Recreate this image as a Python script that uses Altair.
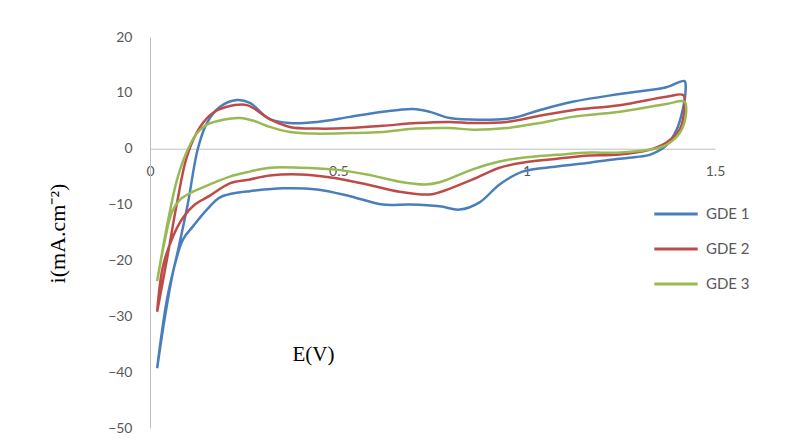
import altair as alt
import pandas as pd

series_names = ["GDE 1", "GDE 2", "GDE 3"]
colors = ["#4A7EBB", "#BE4B48", "#98B954"]

# GDE 1: anodic sweep (left->right) then cathodic sweep (right->left)
gde1_E = [0.019, 0.045, 0.075, 0.100, 0.127, 0.151, 0.186, 0.231, 0.265, 0.318, 0.371, 0.443,
          0.531, 0.618, 0.698, 0.743, 0.796, 0.875, 0.963, 1.034, 1.122, 1.247, 1.371, 1.419,
          1.422, 1.414, 1.398, 1.371, 1.330, 1.290, 1.247, 1.167, 1.080, 0.989, 0.928, 0.875,
          0.822, 0.769, 0.690, 0.618, 0.531, 0.443, 0.353, 0.265, 0.239, 0.186, 0.151, 0.114,
          0.088, 0.065, 0.040, 0.019]
gde1_i = [-39.3, -27.0, -18.0, -10.0, 0.0, 4.6, 7.5, 8.7, 8.2, 5.3, 4.6, 4.8,
          5.7, 6.6, 7.1, 6.6, 5.5, 5.2, 5.5, 6.9, 8.4, 9.8, 11.0, 12.1,
          10.5, 6.9, 3.4, 0.6, -1.0, -1.5, -1.8, -2.5, -3.2, -4.1, -6.4, -9.6,
          -10.9, -10.3, -10.0, -10.0, -8.5, -7.3, -7.1, -7.6, -7.8, -8.7, -10.9, -13.9,
          -16.2, -21.0, -30.0, -39.3]

gde2_E = [0.019, 0.045, 0.072, 0.098, 0.133, 0.167, 0.204, 0.257, 0.318, 0.371, 0.443, 0.531,
          0.618, 0.708, 0.796, 0.857, 0.947, 1.034, 1.122, 1.247, 1.371, 1.416,
          1.419, 1.406, 1.371, 1.326, 1.239, 1.167, 1.080, 0.989, 0.928, 0.857, 0.769, 0.743,
          0.663, 0.576, 0.485, 0.398, 0.318, 0.265, 0.212, 0.159, 0.119, 0.088, 0.061, 0.034,
          0.019]
gde2_i = [-29.2, -19.8, -9.6, -1.4, 3.9, 6.4, 7.5, 7.8, 5.3, 3.9, 3.6, 3.7,
          4.1, 4.6, 4.8, 4.6, 4.8, 5.9, 6.9, 7.8, 9.3, 9.6,
          7.5, 3.4, 1.1, -0.2, -1.1, -1.2, -1.8, -2.5, -3.4, -5.5, -7.8, -8.2,
          -7.7, -6.4, -5.2, -4.6, -4.8, -5.5, -6.2, -8.4, -10.0, -12.3, -15.7, -21.2,
          -29.2]

gde3_E = [0.019, 0.045, 0.072, 0.098, 0.125, 0.151, 0.194, 0.239, 0.275, 0.318, 0.371, 0.443,
          0.531, 0.618, 0.708, 0.796, 0.857, 0.947, 1.034, 1.122, 1.247, 1.371, 1.419,
          1.422, 1.406, 1.371, 1.326, 1.239, 1.167, 1.080, 0.989, 0.928, 0.857, 0.769, 0.730,
          0.663, 0.576, 0.485, 0.398, 0.318, 0.265, 0.212, 0.159, 0.114, 0.080, 0.058, 0.040,
          0.019]
gde3_i = [-23.7, -13.9, -5.5, -0.5, 2.8, 4.3, 5.2, 5.5, 5.0, 3.9, 3.0, 2.7,
          2.8, 3.0, 3.6, 3.7, 3.4, 3.7, 4.6, 5.7, 6.6, 8.0, 8.4,
          5.7, 2.8, 0.7, -0.2, -0.7, -0.7, -1.1, -1.6, -2.3, -3.7, -6.0, -6.4,
          -5.9, -4.6, -3.7, -3.4, -3.4, -4.1, -5.0, -6.4, -7.7, -9.1, -11.4, -16.2,
          -23.7]

x_ticks = [0, 0.5, 1, 1.5]
y_ticks = [-50, -40, -30, -20, -10, 0, 10, 20]

rows = []
for name, es, cs in zip(series_names, [gde1_E, gde2_E, gde3_E], [gde1_i, gde2_i, gde3_i]):
    for k, (e, c) in enumerate(zip(es, cs)):
        rows.append({"series": name, "E": e, "i": c, "idx": k})
df = pd.DataFrame(rows)

W, H = 565, 391
zero_px = H * (20 - 0) / 70.0

label_font = "Lato"
grey = "#595959"
axis_grey = "#BFBFBF"

chart = alt.Chart(df).mark_line(strokeWidth=2.5, interpolate="catmull-rom").encode(
    x=alt.X("E:Q",
            scale=alt.Scale(domain=[0, 1.5], nice=False, zero=False),
            axis=alt.Axis(values=x_ticks, format="~g", offset=-(H - zero_px),
                          ticks=False, grid=False, domainColor=axis_grey, domainWidth=1,
                          labelFont=label_font, labelFontSize=14, labelColor=grey,
                          labelPadding=16, labelFlush=False,
                          title="E(V)", titleFont="Liberation Serif", titleFontSize=21,
                          titleFontWeight="normal", titleColor="#000000",
                          titleX=163, titleY=206, titleAlign="center",
                          titleBaseline="middle")),
    y=alt.Y("i:Q",
            scale=alt.Scale(domain=[-50, 20], nice=False, zero=False),
            axis=alt.Axis(values=y_ticks, ticks=False, grid=False,
                          domainColor=axis_grey, domainWidth=1,
                          labelFont=label_font, labelFontSize=14, labelColor=grey,
                          labelPadding=18,
                          title="i(mA.cm⁻²)", titleFont="Liberation Serif", titleFontSize=22,
                          titleFontWeight="normal", titleColor="#000000",
                          titleX=-93, titleY=196, titleAngle=270, titleAlign="center",
                          titleBaseline="middle")),
    color=alt.Color("series:N",
                    scale=alt.Scale(domain=series_names, range=colors),
                    legend=alt.Legend(title=None, orient="none", legendX=509, legendY=160,
                                      symbolType="M-1.4,0H1.4", symbolSize=961,
                                      symbolStrokeWidth=3, labelFont=label_font,
                                      labelFontSize=15, labelColor=grey, labelOffset=13,
                                      rowPadding=10, padding=0)),
    order="idx:Q",
).properties(
    width=W, height=H,
    autosize=alt.AutoSizeParams(type="none"),
    padding={"left": 142, "top": 29, "right": 60, "bottom": 8},
).configure_view(stroke=None)

chart.save("out.html", embed_options={"renderer": "svg", "actions": False})
